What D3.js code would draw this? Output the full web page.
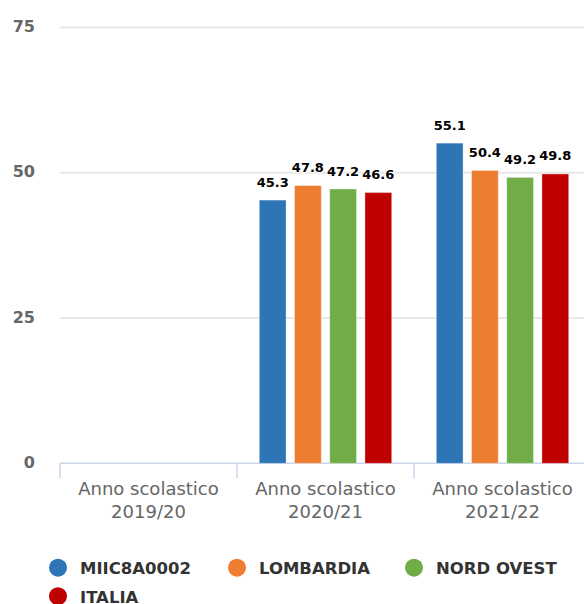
<!DOCTYPE html>
<html>
<head>
<meta charset="utf-8">
<script src="https://cdn.jsdelivr.net/npm/d3@7/dist/d3.min.js"></script>
<style>
  html, body { margin: 0; padding: 0; background: #fff; }
  svg { display: block; font-family: "DejaVu Sans", Verdana, sans-serif; }
</style>
</head>
<body>
<svg id="chart" width="584" height="604"></svg>
<script>
// ---- data ----
const categories = ["Anno scolastico 2019/20", "Anno scolastico 2020/21", "Anno scolastico 2021/22"];
const categoryLines = [["Anno scolastico", "2019/20"], ["Anno scolastico", "2020/21"], ["Anno scolastico", "2021/22"]];
const seriesNames = ["MIIC8A0002", "LOMBARDIA", "NORD OVEST", "ITALIA"];
const seriesColors = ["#2e75b6", "#ed7d31", "#70ad47", "#c00000"];
const miic8a0002 = [null, 45.3, 55.1];
const lombardia = [null, 47.8, 50.4];
const nordOvest = [null, 47.2, 49.2];
const italia = [null, 46.6, 49.8];
const yTicks = [0, 25, 50, 75];

const seriesValues = [miic8a0002, lombardia, nordOvest, italia];

// ---- layout ----
const svg = d3.select("#chart");
const left = 60, right = 591, y0 = 463.3, yTop = 27.5;

const x0 = d3.scaleBand().domain(categories).range([left, right]).paddingInner(0).paddingOuter(0);
const bw = x0.bandwidth();
const x1 = d3.scaleBand().domain(seriesNames).range([bw * 0.126, bw * 0.874]).paddingInner(0.24).paddingOuter(0);
const y = d3.scaleLinear().domain([0, 75]).range([y0, yTop]);

// gridlines
const yAxis = d3.axisLeft(y).tickValues(yTicks).tickSize(0).tickPadding(0);
const gGrid = svg.append("g");
gGrid.selectAll("line").data(yTicks.filter(d => d !== 0)).join("line")
  .attr("x1", left).attr("x2", 584)
  .attr("y1", d => y(d)).attr("y2", d => y(d))
  .attr("stroke", "#e8e8e8").attr("stroke-width", 2);

// y axis labels
const gy = svg.append("g").attr("transform", "translate(35,0)").call(yAxis);
gy.select(".domain").remove();
gy.selectAll("text")
  .attr("font-family", "DejaVu Sans, sans-serif")
  .attr("font-size", 16).attr("font-weight", "bold").attr("fill", "#666666")
  .attr("dy", "0.25em");

// x axis
const xAxis = d3.axisBottom(x0).tickSize(0).tickFormat(() => "");
const gx = svg.append("g").attr("transform", `translate(0,${y0})`).call(xAxis);
gx.select(".domain").attr("stroke", "#ccd6eb").attr("stroke-width", 1.5).attr("d", `M${left},0H584`);
gx.selectAll(".tick").remove();
// tick marks at band edges
const edges = categories.map(c => x0(c));
gx.selectAll("line.edge").data(edges).join("line").attr("class", "edge")
  .attr("x1", d => d).attr("x2", d => d).attr("y1", 0).attr("y2", 15)
  .attr("stroke", "#ccd6eb").attr("stroke-width", 1.5);

// x labels
const gxl = svg.append("g");
categories.forEach((c, i) => {
  const t = gxl.append("text")
    .attr("x", x0(c) + bw / 2).attr("y", 495)
    .attr("text-anchor", "middle")
    .attr("font-size", 18).attr("fill", "#666666");
  categoryLines[i].forEach((ln, j) => {
    t.append("tspan").attr("x", x0(c) + bw / 2).attr("y", 495 + j * 23).text(ln);
  });
});

// bars
const barData = [];
categories.forEach((c, ci) => {
  seriesNames.forEach((s, si) => {
    const v = seriesValues[si][ci];
    if (v !== null) barData.push({ c, s, v, color: seriesColors[si] });
  });
});
const gBars = svg.append("g");
gBars.selectAll("rect").data(barData).join("rect")
  .attr("x", d => x0(d.c) + x1(d.s))
  .attr("y", d => y(d.v))
  .attr("width", x1.bandwidth())
  .attr("height", d => y(0) - y(d.v))
  .attr("fill", d => d.color)
  .attr("stroke", "rgba(255,255,255,0.35)").attr("stroke-width", 1);

// data labels
gBars.selectAll("text").data(barData).join("text")
  .attr("x", d => x0(d.c) + x1(d.s) + x1.bandwidth() / 2)
  .attr("y", d => y(d.v) - 13.5)
  .attr("text-anchor", "middle")
  .attr("font-size", 13).attr("font-weight", "bold").attr("fill", "#000")
  .attr("stroke", "#fff").attr("stroke-width", 2).attr("paint-order", "stroke")
  .attr("stroke-linejoin", "round")
  .text(d => d.v.toFixed(1));

// legend
const legendPos = [[58, 567.7], [237, 567.7], [414, 567.7], [58, 596.2]];
const gl = svg.append("g");
seriesNames.forEach((s, i) => {
  const [lx, ly] = legendPos[i];
  gl.append("circle").attr("cx", lx).attr("cy", ly).attr("r", 9).attr("fill", seriesColors[i]);
  gl.append("text").attr("x", lx + 22).attr("y", ly + 6.3)
    .attr("font-size", 16.5).attr("font-weight", "bold").attr("fill", "#333333")
    .text(s);
});
</script>
</body>
</html>
